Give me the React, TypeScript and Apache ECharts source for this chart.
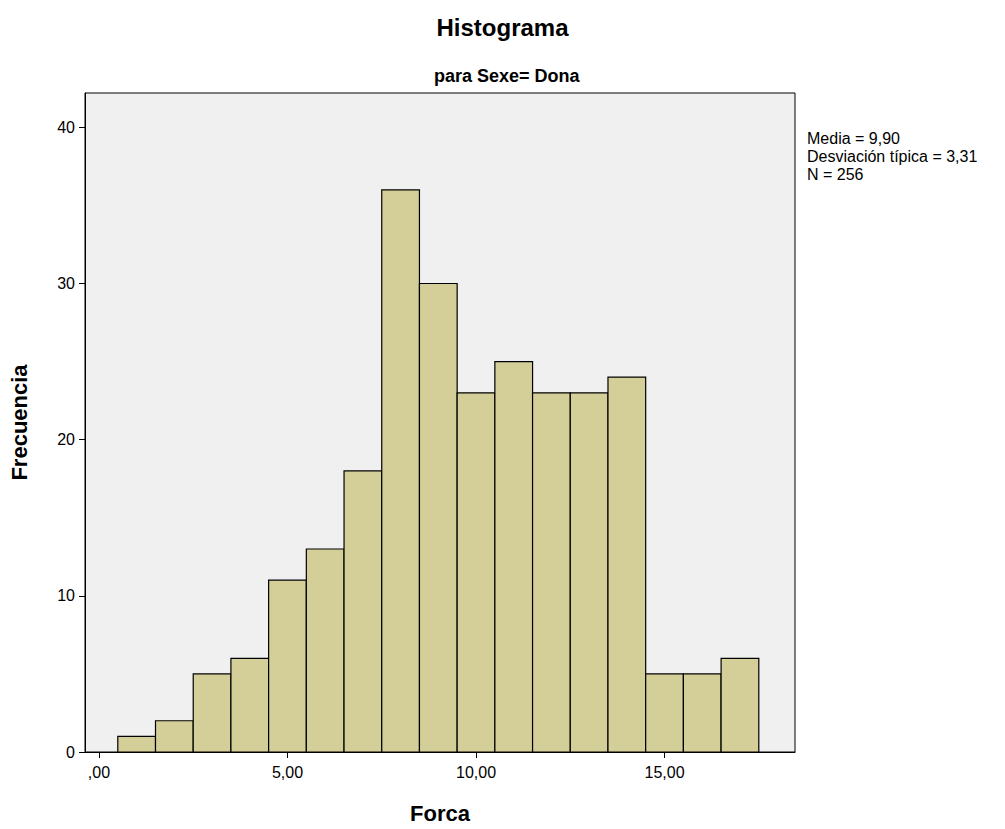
import * as echarts from "echarts";
import { useEffect, useRef } from "react";

const binStarts = [0.5, 1.5, 2.5, 3.5, 4.5, 5.5, 6.5, 7.5, 8.5, 9.5, 10.5, 11.5, 12.5, 13.5, 14.5, 15.5, 16.5];
const counts = [1, 2, 5, 6, 11, 13, 18, 36, 30, 23, 25, 23, 23, 24, 5, 5, 6];
const xTicks = [0, 5, 10, 15];
const statsLines = ["Media = 9,90", "Desviación típica = 3,31", "N = 256"];

export default function App() {
	const ref = useRef<HTMLDivElement>(null);
	useEffect(() => {
		if (!ref.current) return;
		const chart = echarts.init(ref.current, undefined, { renderer: "svg" });
		const font = "'Liberation Sans', Arial, sans-serif";
		chart.setOption({
			animation: false,
			textStyle: { fontFamily: font },
			title: [
				{ text: "Histograma", left: "center", top: 10, textStyle: { fontSize: 24, fontWeight: "bold", color: "#000", fontFamily: font } },
				{ text: "para Sexe= Dona", left: 429, top: 62, textStyle: { fontSize: 18, fontWeight: "bold", color: "#000", fontFamily: font } },
			],
			graphic: [
				{
					type: "text",
					left: 807,
					top: 129,
					style: { text: statsLines.join("\n"), fontSize: 16, lineHeight: 18, fill: "#000", fontFamily: font },
				},
			],
			grid: {
				left: 85,
				right: 210,
				top: 93,
				bottom: 76,
				show: true,
				backgroundColor: "#f0f0f0",
				borderColor: "#000",
				borderWidth: 1,
			},
			xAxis: {
				type: "value",
				min: -0.37,
				max: 18.46,
				name: "Força",
				nameLocation: "middle",
				nameGap: 50,
				nameTextStyle: { fontSize: 22, fontWeight: "bold", color: "#000" },
				splitLine: { show: false },
				axisLine: { show: true, onZero: false, lineStyle: { color: "#000" } },
				axisTick: { show: true, customValues: xTicks, length: 6, lineStyle: { color: "#000" } },
				axisLabel: {
					customValues: xTicks,
					fontSize: 16,
					color: "#000",
					margin: 12,
					formatter: (v: number) => (v === 0 ? ",00" : v.toFixed(2).replace(".", ",")),
				},
			},
			yAxis: {
				type: "value",
				min: 0,
				max: 42.2,
				interval: 10,
				name: "Frecuencia",
				nameLocation: "middle",
				nameGap: 55,
				nameTextStyle: { fontSize: 22, fontWeight: "bold", color: "#000" },
				splitLine: { show: false },
				axisLine: { show: true, onZero: false, lineStyle: { color: "#000" } },
				axisTick: { show: true, length: 6, lineStyle: { color: "#000" } },
				axisLabel: { fontSize: 16, color: "#000", margin: 10, showMaxLabel: false },
			},
			series: [
				{
					type: "custom",
					data: binStarts.map((s, i) => [s, s + 1, counts[i]]),
					renderItem: (_params: any, api: any) => {
						const p0 = api.coord([api.value(0), api.value(2)]);
						const p1 = api.coord([api.value(1), 0]);
						return {
							type: "rect",
							shape: { x: p0[0], y: p0[1], width: p1[0] - p0[0], height: p1[1] - p0[1] },
							style: { fill: "#d4cf98", stroke: "#000", lineWidth: 1.2 },
						};
					},
				},
			],
		});
		return () => chart.dispose();
	}, []);
	return <div ref={ref} style={{ width: 1005, height: 829, margin: -8 }} />;
}
